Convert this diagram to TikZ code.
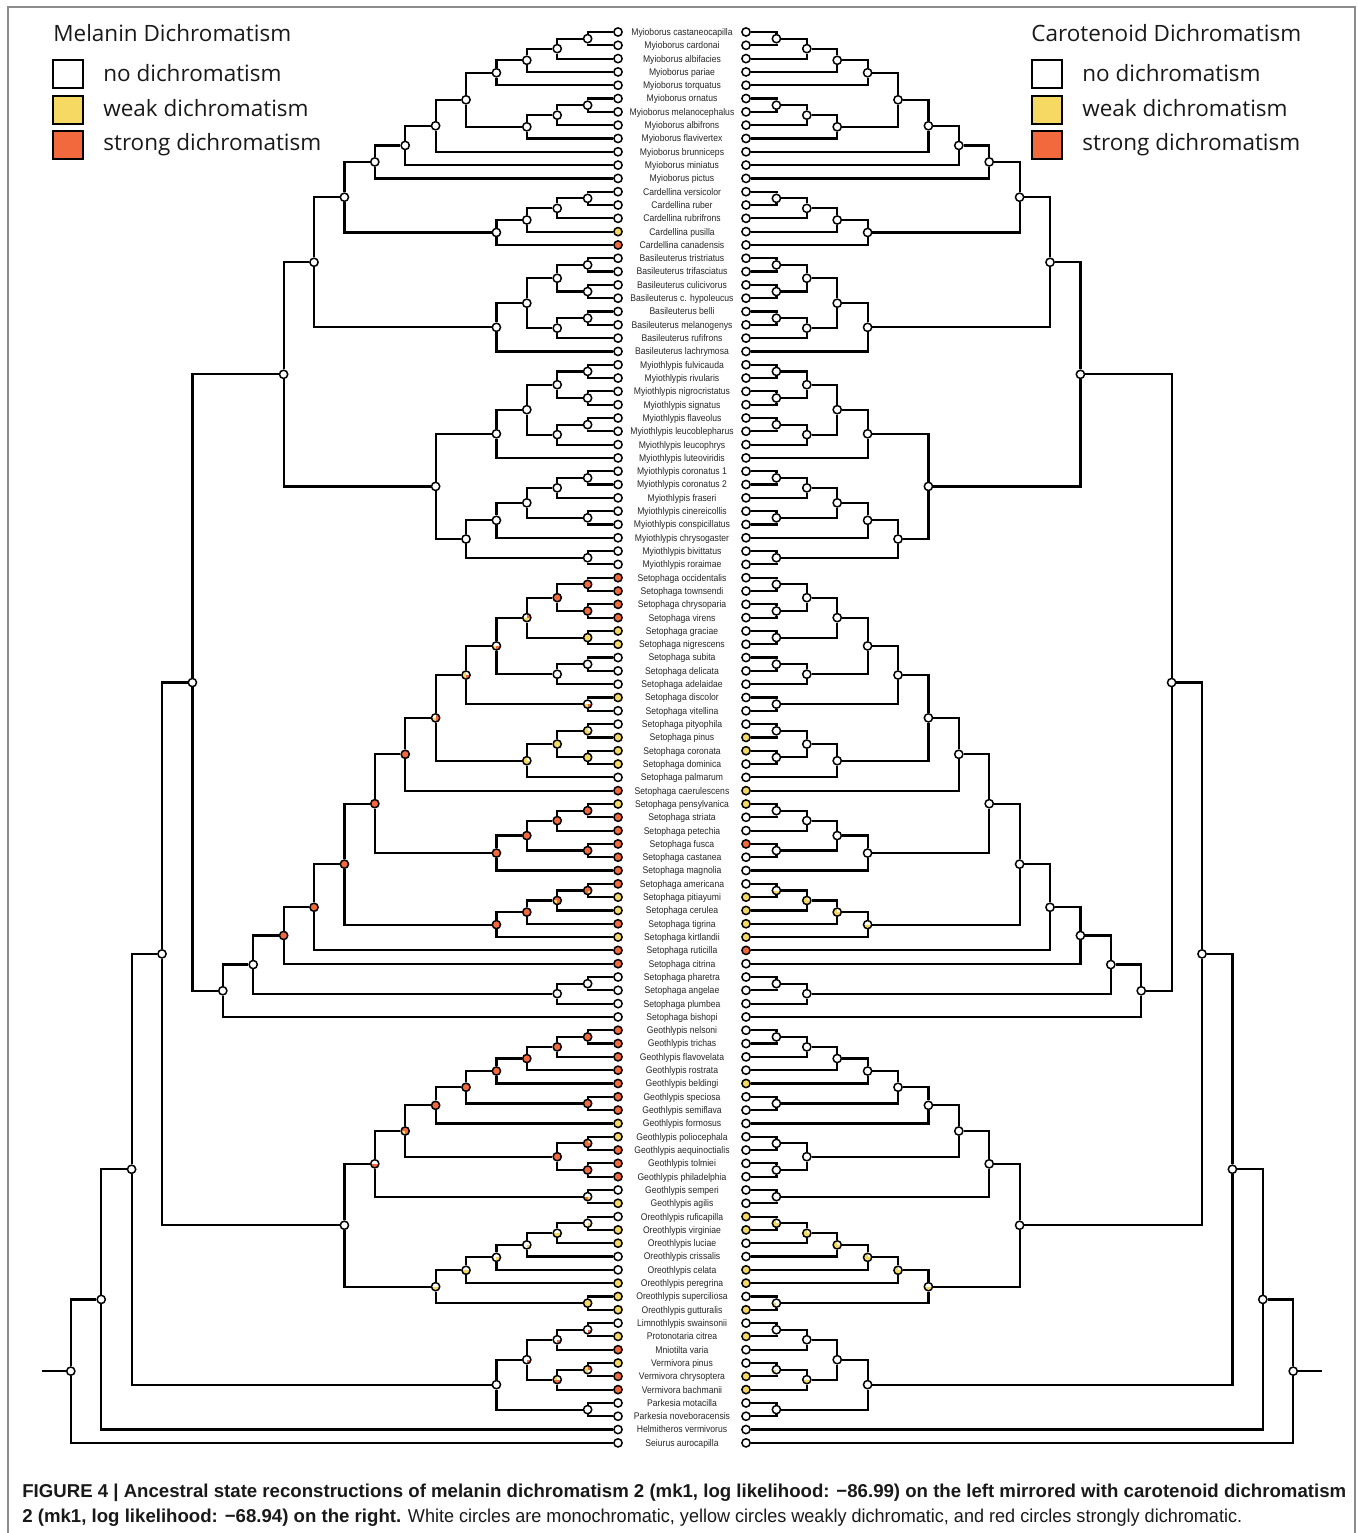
\documentclass[tikz,border=0pt]{standalone}
\usepackage{fontspec}
\setmainfont{Liberation Sans}
\newfontfamily\tipfont{Liberation Sans}[FakeStretch=0.89]
\newfontfamily\legfont{Open Sans}
\newfontfamily\capfont{Liberation Sans}
\newfontfamily\capregfont{Liberation Sans}[FakeStretch=0.97]
\usetikzlibrary{calc}
\definecolor{cW}{HTML}{FFFFFF}
\definecolor{cY}{HTML}{F6D962}
\definecolor{cR}{HTML}{F2693D}
\definecolor{frameGray}{HTML}{8C8C8C}
\tikzset{
  branch/.style={line width=1.25pt, draw=black},
  % --- node circles ---
  dotBase/.style={circle, draw=black, line width=0.85pt, inner sep=0pt, minimum size=0.165cm},
  dW/.style={fill=cW},
  dY/.style={fill=cY},
  dR/.style={fill=cR},
  % quarters: NE, NW, SW, SE
  pie/.style n args={4}{fill=cW, path picture={
      \fill[#1] (path picture bounding box.center) rectangle (path picture bounding box.north east);
      \fill[#2] (path picture bounding box.center) rectangle (path picture bounding box.north west);
      \fill[#3] (path picture bounding box.center) rectangle (path picture bounding box.south west);
      \fill[#4] (path picture bounding box.center) rectangle (path picture bounding box.south east);
  }},
  tipLabel/.style={font=\tipfont\fontsize{5.5}{6}\selectfont, text=black!85, inner sep=0pt, anchor=base},
  legText/.style={font=\legfont\fontsize{12.8}{15}\selectfont, text=black!90, inner sep=0pt, anchor=base west},
  legBox/.style={draw=black, line width=1.1pt, minimum width=0.6cm, minimum height=0.55cm, inner sep=0pt},
  capLine/.style={font=\capfont\fontsize{10.6}{12}\selectfont, text=black!90, inner sep=0pt, anchor=base west}
}
% one clade on both sides: name, upper child, lower child, height, left style, right style
\newcommand{\clade}[6]{%
  \path ($(L#2)!0.5!(L#3)$) coordinate (L#1m);
  \coordinate (L#1x) at ({618-#4*30.4},0);
  \coordinate (R#1x) at ({746+#4*30.4},0);
  \node[dotBase, #5] (L#1) at (L#1x |- L#1m) {};
  \draw[branch] (L#2) -| (L#1);
  \draw[branch] (L#3) -| (L#1);
  \node[dotBase, #6] (R#1) at (R#1x |- L#1m) {};
  \draw[branch] (R#2) -| (R#1);
  \draw[branch] (R#3) -| (R#1);
}

\begin{document}
\begin{tikzpicture}[x=0.02cm, y=-0.02cm]
  \useasboundingbox (0,0) rectangle (1357,1533);

  % --- frame ---
  \draw[frameGray, line width=0.7pt] (8,1540) -- (8,7) -- (1355,7) -- (1355,1540);

  %% --- TIPS: name / melanin / carotenoid ---
  \foreach \nm/\cl/\cr [count=\i] in {
    Myioborus castaneocapilla/W/W, Myioborus cardonai/W/W, Myioborus albifacies/W/W,
    Myioborus pariae/W/W, Myioborus torquatus/W/W, Myioborus ornatus/W/W,
    Myioborus melanocephalus/W/W, Myioborus albifrons/W/W, Myioborus flavivertex/W/W,
    Myioborus brunniceps/W/W, Myioborus miniatus/W/W, Myioborus pictus/W/W,
    Cardellina versicolor/W/W, Cardellina ruber/W/W, Cardellina rubrifrons/W/W,
    Cardellina pusilla/Y/W, Cardellina canadensis/R/W,
    Basileuterus tristriatus/W/W, Basileuterus trifasciatus/W/W, Basileuterus culicivorus/W/W,
    Basileuterus c. hypoleucus/W/W, Basileuterus belli/W/W, Basileuterus melanogenys/W/W,
    Basileuterus rufifrons/W/W, Basileuterus lachrymosa/W/W,
    Myiothlypis fulvicauda/W/W, Myiothlypis rivularis/W/W, Myiothlypis nigrocristatus/W/W,
    Myiothlypis signatus/W/W, Myiothlypis flaveolus/W/W, Myiothlypis leucoblepharus/W/W,
    Myiothlypis leucophrys/W/W, Myiothlypis luteoviridis/W/W, Myiothlypis coronatus 1/W/W,
    Myiothlypis coronatus 2/W/W, Myiothlypis fraseri/W/W, Myiothlypis cinereicollis/W/W,
    Myiothlypis conspicillatus/W/W, Myiothlypis chrysogaster/W/W, Myiothlypis bivittatus/W/W,
    Myiothlypis roraimae/W/W,
    Setophaga occidentalis/R/W, Setophaga townsendi/R/W, Setophaga chrysoparia/R/W,
    Setophaga virens/R/W, Setophaga graciae/Y/W, Setophaga nigrescens/Y/W,
    Setophaga subita/W/W, Setophaga delicata/W/W, Setophaga adelaidae/W/W,
    Setophaga discolor/Y/W, Setophaga vitellina/W/W, Setophaga pityophila/W/W,
    Setophaga pinus/Y/Y, Setophaga coronata/Y/Y, Setophaga dominica/Y/W,
    Setophaga palmarum/W/W, Setophaga caerulescens/R/Y, Setophaga pensylvanica/Y/Y,
    Setophaga striata/R/W, Setophaga petechia/R/W, Setophaga fusca/R/R,
    Setophaga castanea/R/W, Setophaga magnolia/R/W, Setophaga americana/R/W,
    Setophaga pitiayumi/Y/Y, Setophaga cerulea/Y/Y, Setophaga tigrina/R/Y,
    Setophaga kirtlandii/Y/Y, Setophaga ruticilla/R/R, Setophaga citrina/R/W,
    Setophaga pharetra/W/W, Setophaga angelae/W/W, Setophaga plumbea/W/W,
    Setophaga bishopi/W/W,
    Geothlypis nelsoni/R/W, Geothlypis trichas/R/W, Geothlypis flavovelata/R/W,
    Geothlypis rostrata/R/W, Geothlypis beldingi/R/Y, Geothlypis speciosa/R/W,
    Geothlypis semiflava/R/W, Geothlypis formosus/Y/W, Geothlypis poliocephala/Y/W,
    Geothlypis aequinoctialis/R/W, Geothlypis tolmiei/R/W, Geothlypis philadelphia/R/W,
    Geothlypis semperi/W/W, Geothlypis agilis/Y/W,
    Oreothlypis ruficapilla/W/Y, Oreothlypis virginiae/Y/Y, Oreothlypis luciae/Y/W,
    Oreothlypis crissalis/W/W, Oreothlypis celata/W/Y, Oreothlypis peregrina/Y/Y,
    Oreothlypis superciliosa/Y/W, Oreothlypis gutturalis/Y/Y,
    Limnothlypis swainsonii/W/W, Protonotaria citrea/Y/Y, Mniotilta varia/R/W,
    Vermivora pinus/Y/W, Vermivora chrysoptera/R/Y, Vermivora bachmanii/R/Y,
    Parkesia motacilla/W/W, Parkesia noveboracensis/W/W, Helmitheros vermivorus/W/W,
    Seiurus aurocapilla/W/W} {
      \node[tipLabel] (lab\i) at (682, {35.4+(\i-1)*13.31}) {\nm};
      \node[dotBase, fill=c\cl] (Lt\i) at (618, {32+(\i-1)*13.31}) {};
      \node[dotBase, fill=c\cr] (Rt\i) at (746, {32+(\i-1)*13.31}) {};
  }

  %% --- Myioborus ---
  \clade{m12}{t1}{t2}{1}{dW}{dW}
  \clade{m13}{m12}{t3}{2}{dW}{dW}
  \clade{m14}{m13}{t4}{3}{dW}{dW}
  \clade{m15}{m14}{t5}{4}{dW}{dW}
  \clade{m67}{t6}{t7}{1}{dW}{dW}
  \clade{m68}{m67}{t8}{2}{dW}{dW}
  \clade{m69}{m68}{t9}{3}{dW}{dW}
  \clade{m19}{m15}{m69}{5}{dW}{dW}
  \clade{m110}{m19}{t10}{6}{dW}{dW}
  \clade{m111}{m110}{t11}{7}{dW}{dW}
  \clade{m112}{m111}{t12}{8}{dW}{dW}
  %% --- Cardellina ---
  \clade{c1}{t13}{t14}{1}{dW}{dW}
  \clade{c2}{c1}{t15}{2}{dW}{dW}
  \clade{c3}{c2}{t16}{3}{dW}{dW}
  \clade{c4}{c3}{t17}{4}{dW}{dW}
  \clade{mc}{m112}{c4}{9}{dW}{dW}
  %% --- Basileuterus ---
  \clade{b1}{t18}{t19}{1}{dW}{dW}
  \clade{b2}{t20}{t21}{1}{dW}{dW}
  \clade{b3}{b1}{b2}{2}{dW}{dW}
  \clade{b4}{t22}{t23}{1}{dW}{dW}
  \clade{b5}{b4}{t24}{2}{dW}{dW}
  \clade{b6}{b3}{b5}{3}{dW}{dW}
  \clade{b7}{b6}{t25}{4}{dW}{dW}
  \clade{mcb}{mc}{b7}{10}{dW}{dW}
  %% --- Myiothlypis ---
  \clade{y1}{t26}{t27}{1}{dW}{dW}
  \clade{y2}{t28}{t29}{1}{dW}{dW}
  \clade{y3}{y1}{y2}{2}{dW}{dW}
  \clade{y4}{t30}{t31}{1}{dW}{dW}
  \clade{y5}{y4}{t32}{2}{dW}{dW}
  \clade{y6}{y3}{y5}{3}{dW}{dW}
  \clade{y7}{y6}{t33}{4}{dW}{dW}
  \clade{y8}{t34}{t35}{1}{dW}{dW}
  \clade{y9}{y8}{t36}{2}{dW}{dW}
  \clade{y10}{t37}{t38}{1}{dW}{dW}
  \clade{y11}{y9}{y10}{3}{dW}{dW}
  \clade{y12}{y11}{t39}{4}{dW}{dW}
  \clade{y13}{t40}{t41}{1}{dW}{dW}
  \clade{y14}{y12}{y13}{5}{dW}{dW}
  \clade{y15}{y7}{y14}{6}{dW}{dW}
  \clade{up}{mcb}{y15}{11}{dW}{dW}
  %% --- Setophaga ---
  \clade{s1}{t42}{t43}{1}{dR}{dW}
  \clade{s2}{t44}{t45}{1}{dR}{dW}
  \clade{s3}{s1}{s2}{2}{dR}{dW}
  \clade{s4}{t46}{t47}{1}{dY}{dW}
  \clade{s5}{s3}{s4}{3}{pie={cR}{cW}{cY}{cY}}{dW}
  \clade{s6}{t48}{t49}{1}{dW}{dW}
  \clade{s7}{s6}{t50}{2}{dW}{dW}
  \clade{s8}{s5}{s7}{4}{pie={cW}{cW}{cY}{cR}}{dW}
  \clade{s9}{t51}{t52}{1}{pie={cW}{cW}{cY}{cR}}{dW}
  \clade{s10}{s8}{s9}{5}{pie={cW}{cY}{cY}{cR}}{dW}
  \clade{s11}{t53}{t54}{1}{pie={cW}{cY}{cY}{cY}}{dW}
  \clade{s12}{t55}{t56}{1}{dY}{dW}
  \clade{s13}{s11}{s12}{2}{dY}{dW}
  \clade{s14}{s13}{t57}{3}{pie={cW}{cY}{cY}{cY}}{dW}
  \clade{s15}{s10}{s14}{6}{pie={cR}{cW}{cY}{cR}}{dW}
  \clade{s16}{s15}{t58}{7}{dR}{dW}
  \clade{s17}{t59}{t60}{1}{dR}{dW}
  \clade{s18}{s17}{t61}{2}{dR}{dW}
  \clade{s19}{t62}{t63}{1}{dR}{dW}
  \clade{s20}{s18}{s19}{3}{dR}{dW}
  \clade{s21}{s20}{t64}{4}{dR}{dW}
  \clade{s22}{s16}{s21}{8}{dR}{dW}
  \clade{s23}{t65}{t66}{1}{pie={cR}{cR}{cR}{cY}}{pie={cW}{cW}{cY}{cY}}
  \clade{s24}{s23}{t67}{2}{pie={cR}{cR}{cY}{cR}}{pie={cW}{cY}{cY}{cY}}
  \clade{s25}{s24}{t68}{3}{dR}{pie={cW}{cY}{cY}{cY}}
  \clade{s26}{s25}{t69}{4}{dR}{pie={cW}{cW}{cY}{cY}}
  \clade{s27}{s22}{s26}{9}{dR}{dW}
  \clade{s28}{s27}{t70}{10}{dR}{dW}
  \clade{s29}{s28}{t71}{11}{dR}{dW}
  \clade{s30}{t72}{t73}{1}{dW}{dW}
  \clade{s31}{s30}{t74}{2}{dW}{dW}
  \clade{s32}{s29}{s31}{12}{dW}{dW}
  \clade{s33}{s32}{t75}{13}{dW}{dW}
  \clade{mid}{up}{s33}{14}{dW}{dW}
  %% --- Geothlypis ---
  \clade{g1}{t76}{t77}{1}{dR}{dW}
  \clade{g2}{g1}{t78}{2}{dR}{dW}
  \clade{g3}{g2}{t79}{3}{dR}{dW}
  \clade{g4}{g3}{t80}{4}{dR}{dW}
  \clade{g5}{t81}{t82}{1}{dR}{dW}
  \clade{g6}{g4}{g5}{5}{dR}{dW}
  \clade{g7}{g6}{t83}{6}{dR}{dW}
  \clade{g8}{t84}{t85}{1}{pie={cY}{cR}{cR}{cR}}{dW}
  \clade{g9}{t86}{t87}{1}{dR}{dW}
  \clade{g10}{g8}{g9}{2}{dR}{dW}
  \clade{g11}{g7}{g10}{7}{pie={cR}{cR}{cY}{cR}}{dW}
  \clade{g12}{t88}{t89}{1}{pie={cW}{cW}{cR}{cY}}{dW}
  \clade{g13}{g11}{g12}{8}{pie={cW}{cW}{cR}{cR}}{dW}
  %% --- Oreothlypis ---
  \clade{o1}{t90}{t91}{1}{pie={cW}{cW}{cW}{cY}}{pie={cW}{cY}{cY}{cY}}
  \clade{o2}{o1}{t92}{2}{pie={cW}{cW}{cY}{cY}}{pie={cW}{cY}{cY}{cY}}
  \clade{o3}{o2}{t93}{3}{pie={cW}{cW}{cW}{cY}}{pie={cW}{cY}{cY}{cY}}
  \clade{o4}{o3}{t94}{4}{pie={cW}{cW}{cW}{cY}}{pie={cW}{cY}{cY}{cY}}
  \clade{o5}{o4}{t95}{5}{pie={cW}{cW}{cY}{cY}}{pie={cW}{cY}{cY}{cY}}
  \clade{o6}{t96}{t97}{1}{dY}{pie={cW}{cW}{cY}{cW}}
  \clade{o7}{o5}{o6}{6}{pie={cW}{cW}{cY}{cY}}{pie={cW}{cW}{cY}{cY}}
  \clade{go}{g13}{o7}{9}{dW}{dW}
  \clade{top}{mid}{go}{15}{dW}{dW}
  %% --- Limnothlypis to Parkesia ---
  \clade{v1}{t98}{t99}{1}{pie={cW}{cW}{cW}{cR}}{dW}
  \clade{v2}{v1}{t100}{2}{pie={cW}{cW}{cW}{cR}}{dW}
  \clade{v3}{t101}{t102}{1}{pie={cR}{cY}{cY}{cW}}{pie={cW}{cW}{cY}{cW}}
  \clade{v4}{v3}{t103}{2}{pie={cW}{cY}{cR}{cR}}{pie={cW}{cW}{cY}{cY}}
  \clade{v5}{v2}{v4}{3}{pie={cW}{cW}{cW}{cR}}{dW}
  \clade{v6}{t104}{t105}{1}{dW}{dW}
  \clade{v7}{v5}{v6}{4}{dW}{dW}
  \clade{r1}{top}{v7}{16}{dW}{dW}
  \clade{r2}{r1}{t106}{17}{dW}{dW}
  \clade{r3}{r2}{t107}{18}{dW}{dW}

  % --- root stems ---
  \coordinate (Lstem) at (42,0 |- Lr3);
  \coordinate (Rstem) at (1322,0 |- Rr3);
  \draw[branch] (Lr3) -- (Lstem);
  \draw[branch] (Rr3) -- (Rstem);

  %% --- LEGENDS ---
  \node[legText] (legL) at (53,42) {Melanin Dichromatism};
  \node[legBox, fill=cW] (boxLW) at (68,74) {};
  \node[legBox, fill=cY] (boxLY) at (68,110) {};
  \node[legBox, fill=cR] (boxLR) at (68,145) {};
  \node[legText] (txtLW) at (103,82) {no dichromatism};
  \node[legText] (txtLY) at (103,117) {weak dichromatism};
  \node[legText] (txtLR) at (103,151) {strong dichromatism};

  \node[legText] (legR) at (1031,42) {Carotenoid Dichromatism};
  \node[legBox, fill=cW] (boxRW) at (1047,74) {};
  \node[legBox, fill=cY] (boxRY) at (1047,110) {};
  \node[legBox, fill=cR] (boxRR) at (1047,145) {};
  \node[legText] (txtRW) at (1082,82) {no dichromatism};
  \node[legText] (txtRY) at (1082,117) {weak dichromatism};
  \node[legText] (txtRR) at (1082,151) {strong dichromatism};

  %% --- CAPTION ---
  \node[capLine] (cap1) at (22,1497) {\bfseries FIGURE 4 | Ancestral state reconstructions of melanin dichromatism 2 (mk1, log likelihood: −86.99) on the left mirrored with carotenoid dichromatism};
  \node[capLine] (cap2) at (22,1522) {\bfseries 2 (mk1, log likelihood: −68.94) on the right.\mdseries\capregfont{} White circles are monochromatic, yellow circles weakly dichromatic, and red circles strongly dichromatic.};
\end{tikzpicture}
\end{document}
